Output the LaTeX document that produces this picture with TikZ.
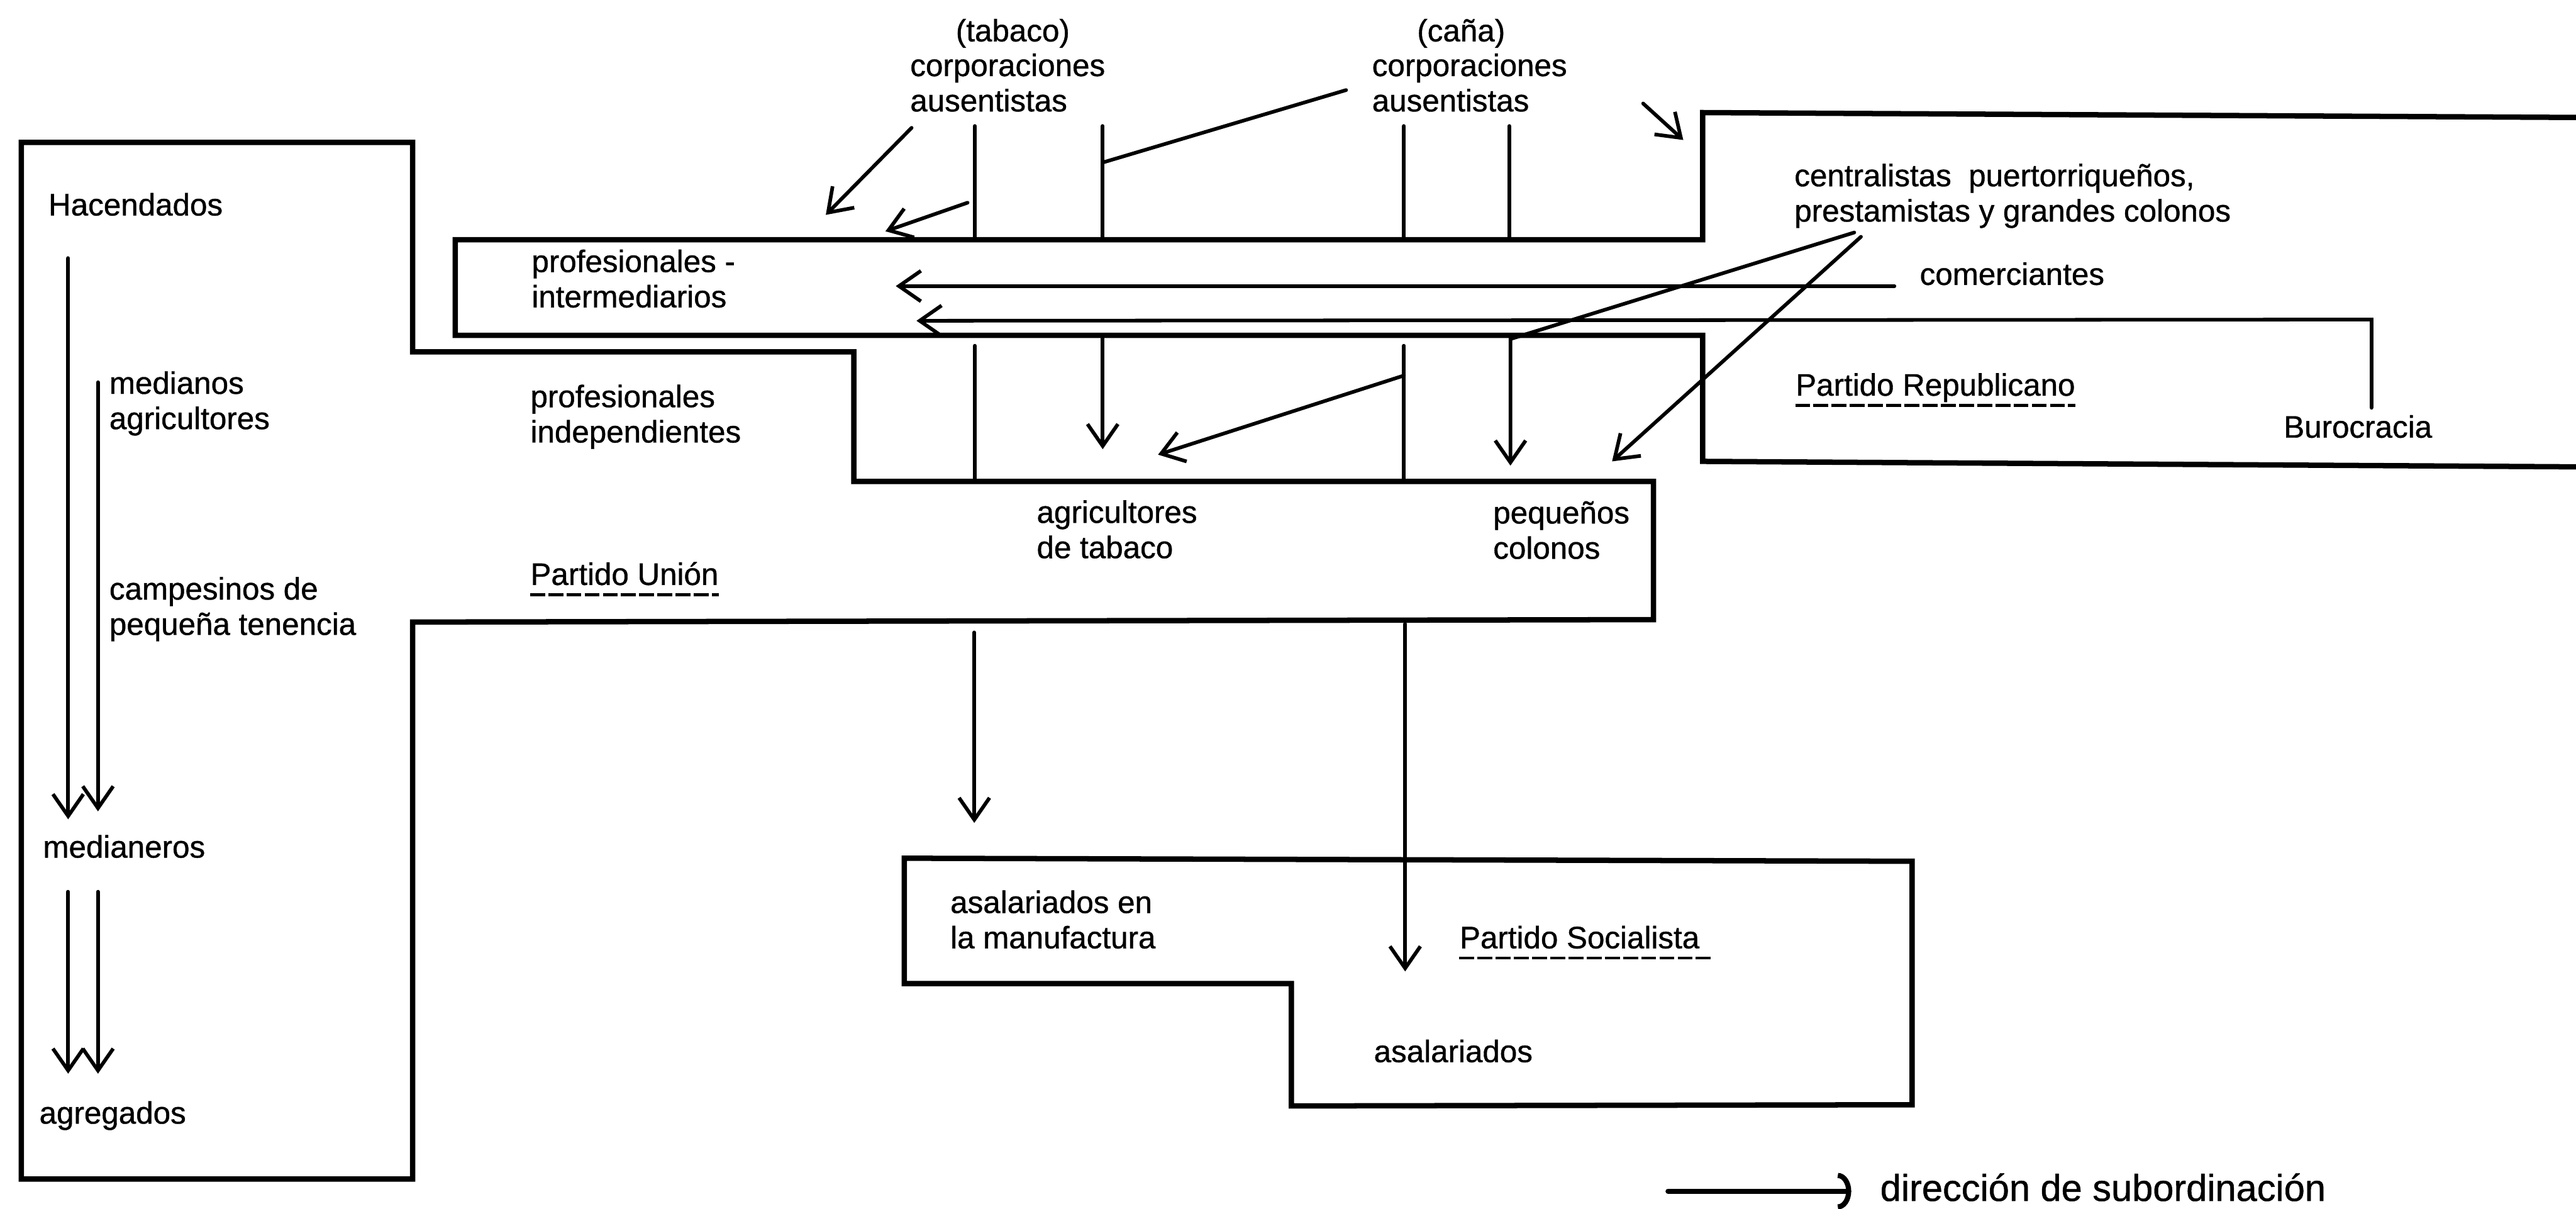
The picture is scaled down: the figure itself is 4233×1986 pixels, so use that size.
\documentclass[tikz,border=0pt]{standalone}
\usepackage{fontspec}
\setmainfont{Liberation Sans}[BoldFont={Liberation Sans}, BoldFeatures={FakeBold=0.8}]
\usetikzlibrary{arrows.meta}
\begin{document}
\begin{tikzpicture}[x=0.01cm,y=-0.01cm,
  box/.style={line width=2.5pt, line join=miter},
  link/.style={line width=1.7pt, line cap=round},
  arr/.style={link, -{Straight Barb[length=3.6mm,width=5mm]}},
  lbl/.style={anchor=base west, inner sep=0pt, align=left, font=\fontsize{14.5pt}{16.5pt}\selectfont\bfseries},
  ul/.style={line width=1.4pt, dash pattern=on 7pt off 1.5pt}
]
\useasboundingbox (0,0) rectangle (4233,1986);
\fill[white] (0,0) rectangle (4233,1986);

% ---------- party outlines ----------
\draw[box] (35,234) -- (678,234) -- (678,578) -- (1403,578) -- (1403,791) -- (2717,791)
  -- (2717,1018) -- (678,1022) -- (678,1937) -- (35,1937) -- cycle;
\draw[box] (4233,193) -- (2798,185) -- (2798,394) -- (748,394) -- (748,551) -- (2798,551)
  -- (2798,758) -- (4233,767);
\draw[box] (1486,1410) -- (3142,1415) -- (3142,1815) -- (2122,1817) -- (2122,1616)
  -- (1486,1616) -- cycle;

% ---------- labels (multi-line nodes: anchor at last baseline) ----------
\node[lbl] (tab)  at (1570,68)  {(tabaco)};
\node[lbl] (ctab) at (1495,183) {corporaciones\\ausentistas};
\node[lbl] (can)  at (2328,68)  {(caña)};
\node[lbl] (ccan) at (2254,183) {corporaciones\\ausentistas};
\node[lbl] (cent) at (2948,364) {centralistas\ \ puertorriqueños,\\prestamistas\ y\ grandes colonos};
\node[lbl] (com)  at (3154,468) {comerciantes};
\node[lbl] (prep) at (2950,650) {Partido Republicano};
\node[lbl] (buro) at (3752,719) {Burocracia};
\node[lbl] (hac)  at (79,354)   {Hacendados};
\node[lbl] (pint) at (873,505)  {profesionales -\\intermediarios};
\node[lbl] (med)  at (179,705)  {medianos\\agricultores};
\node[lbl] (pind) at (871,727)  {profesionales\\independientes};
\node[lbl] (camp) at (179,1043) {campesinos de\\pequeña\ tenencia};
\node[lbl] (puni) at (871,961)  {Partido Unión};
\node[lbl] (agt)  at (1703,917) {agricultores\\de tabaco};
\node[lbl] (peq)  at (2453,918) {pequeños\\colonos};
\node[lbl] (mdn)  at (70,1409)  {medianeros};
\node[lbl] (agr)  at (64,1846)  {agregados};
\node[lbl] (asm)  at (1561,1558) {asalariados en\\la manufactura};
\node[lbl] (psoc) at (2398,1558) {Partido Socialista};
\node[lbl] (asa)  at (2257,1745) {asalariados};

\draw[ul] ([yshift=-4.5pt]puni.base west) -- ([yshift=-4.5pt]puni.base east);
\draw[ul] ([yshift=-4.5pt]prep.base west) -- ([yshift=-4.5pt]prep.base east);
\draw[ul] ([yshift=-4.5pt]psoc.base west) -- ([yshift=-4.5pt,xshift=5pt]psoc.base east);

% ---------- top connectors ----------
\coordinate (t1a) at (1602,207); \coordinate (t1b) at (1602,394);
\coordinate (t2a) at (1812,207); \coordinate (t2b) at (1812,394);
\coordinate (t3a) at (2307,207); \coordinate (t3b) at (2307,394);
\coordinate (t4a) at (2480,207); \coordinate (t4b) at (2480,394);
\draw[link] (t1a) -- (t1b);
\draw[link] (t2a) -- (t2b);
\draw[link] (t3a) -- (t3b);
\draw[link] (t4a) -- (t4b);
\coordinate (cana0) at (2212,148); \coordinate (cana1) at (1812,267);
\draw[link] (cana0) -- (cana1);
\coordinate (ta0) at (1498,210); \coordinate (ta1) at (1357,353);
\draw[arr] (ta0) -- (ta1);
\coordinate (tb0) at (1590,333); \coordinate (tb1) at (1455,380);
\draw[arr] (tb0) -- (tb1);
\coordinate (tc0) at (2700,170); \coordinate (tc1) at (2766,230);
\draw[arr] (tc0) -- (tc1);

% ---------- horizontal arrows ----------
\coordinate (co0) at (3113,470); \coordinate (co1) at (1472,470);
\draw[arr] (co0) -- (co1);
\coordinate (bu0) at (3897,670); \coordinate (bu1) at (3897,525); \coordinate (bu2) at (1506,527);
\draw[arr] (bu0) -- (bu1) -- (bu2);

% ---------- middle connectors ----------
\coordinate (m1a) at (1602,568); \coordinate (m1b) at (1602,791);
\draw[link] (m1a) -- (m1b);
\coordinate (m2a) at (1812,553); \coordinate (m2b) at (1812,738);
\draw[arr] (m2a) -- (m2b);
\coordinate (m3a) at (2307,568); \coordinate (m3b) at (2307,791);
\draw[link] (m3a) -- (m3b);
\coordinate (m3c) at (2307,617); \coordinate (m3d) at (1903,747);
\draw[arr] (m3c) -- (m3d);
\coordinate (ce0) at (3047,382); \coordinate (m4a) at (2482,557); \coordinate (m4b) at (2482,765);
\draw[arr] (ce0) -- (m4a) -- (m4b);
\coordinate (ce1) at (3058,389); \coordinate (ce2) at (2649,758);
\draw[arr] (ce1) -- (ce2);

% ---------- lower connectors ----------
\coordinate (l1a) at (1601,1039); \coordinate (l1b) at (1601,1352);
\draw[arr] (l1a) -- (l1b);
\coordinate (l2a) at (2309,1025); \coordinate (l2b) at (2309,1596);
\draw[arr] (l2a) -- (l2b);

% ---------- left column ----------
\coordinate (h1a) at (112,424);  \coordinate (h1b) at (112,1346);
\coordinate (h2a) at (161,628);  \coordinate (h2b) at (161,1333);
\coordinate (h3a) at (112,1465); \coordinate (h3b) at (112,1764);
\coordinate (h4a) at (161,1465); \coordinate (h4b) at (161,1764);
\draw[arr] (h1a) -- (h1b);
\draw[arr] (h2a) -- (h2b);
\draw[arr] (h3a) -- (h3b);
\draw[arr] (h4a) -- (h4b);

% ---------- legend ----------
\node[lbl, font=\fontsize{17.5pt}{20pt}\selectfont\bfseries] (leg) at (3089,1973) {dirección de subordinación};
\coordinate (lg0) at (2741,1957); \coordinate (lg1) at (3042,1957);
\draw[link, line width=2.4pt, -{Arc Barb[length=2.2mm,width=6mm]}] (lg0) -- (lg1);
\end{tikzpicture}
\end{document}
